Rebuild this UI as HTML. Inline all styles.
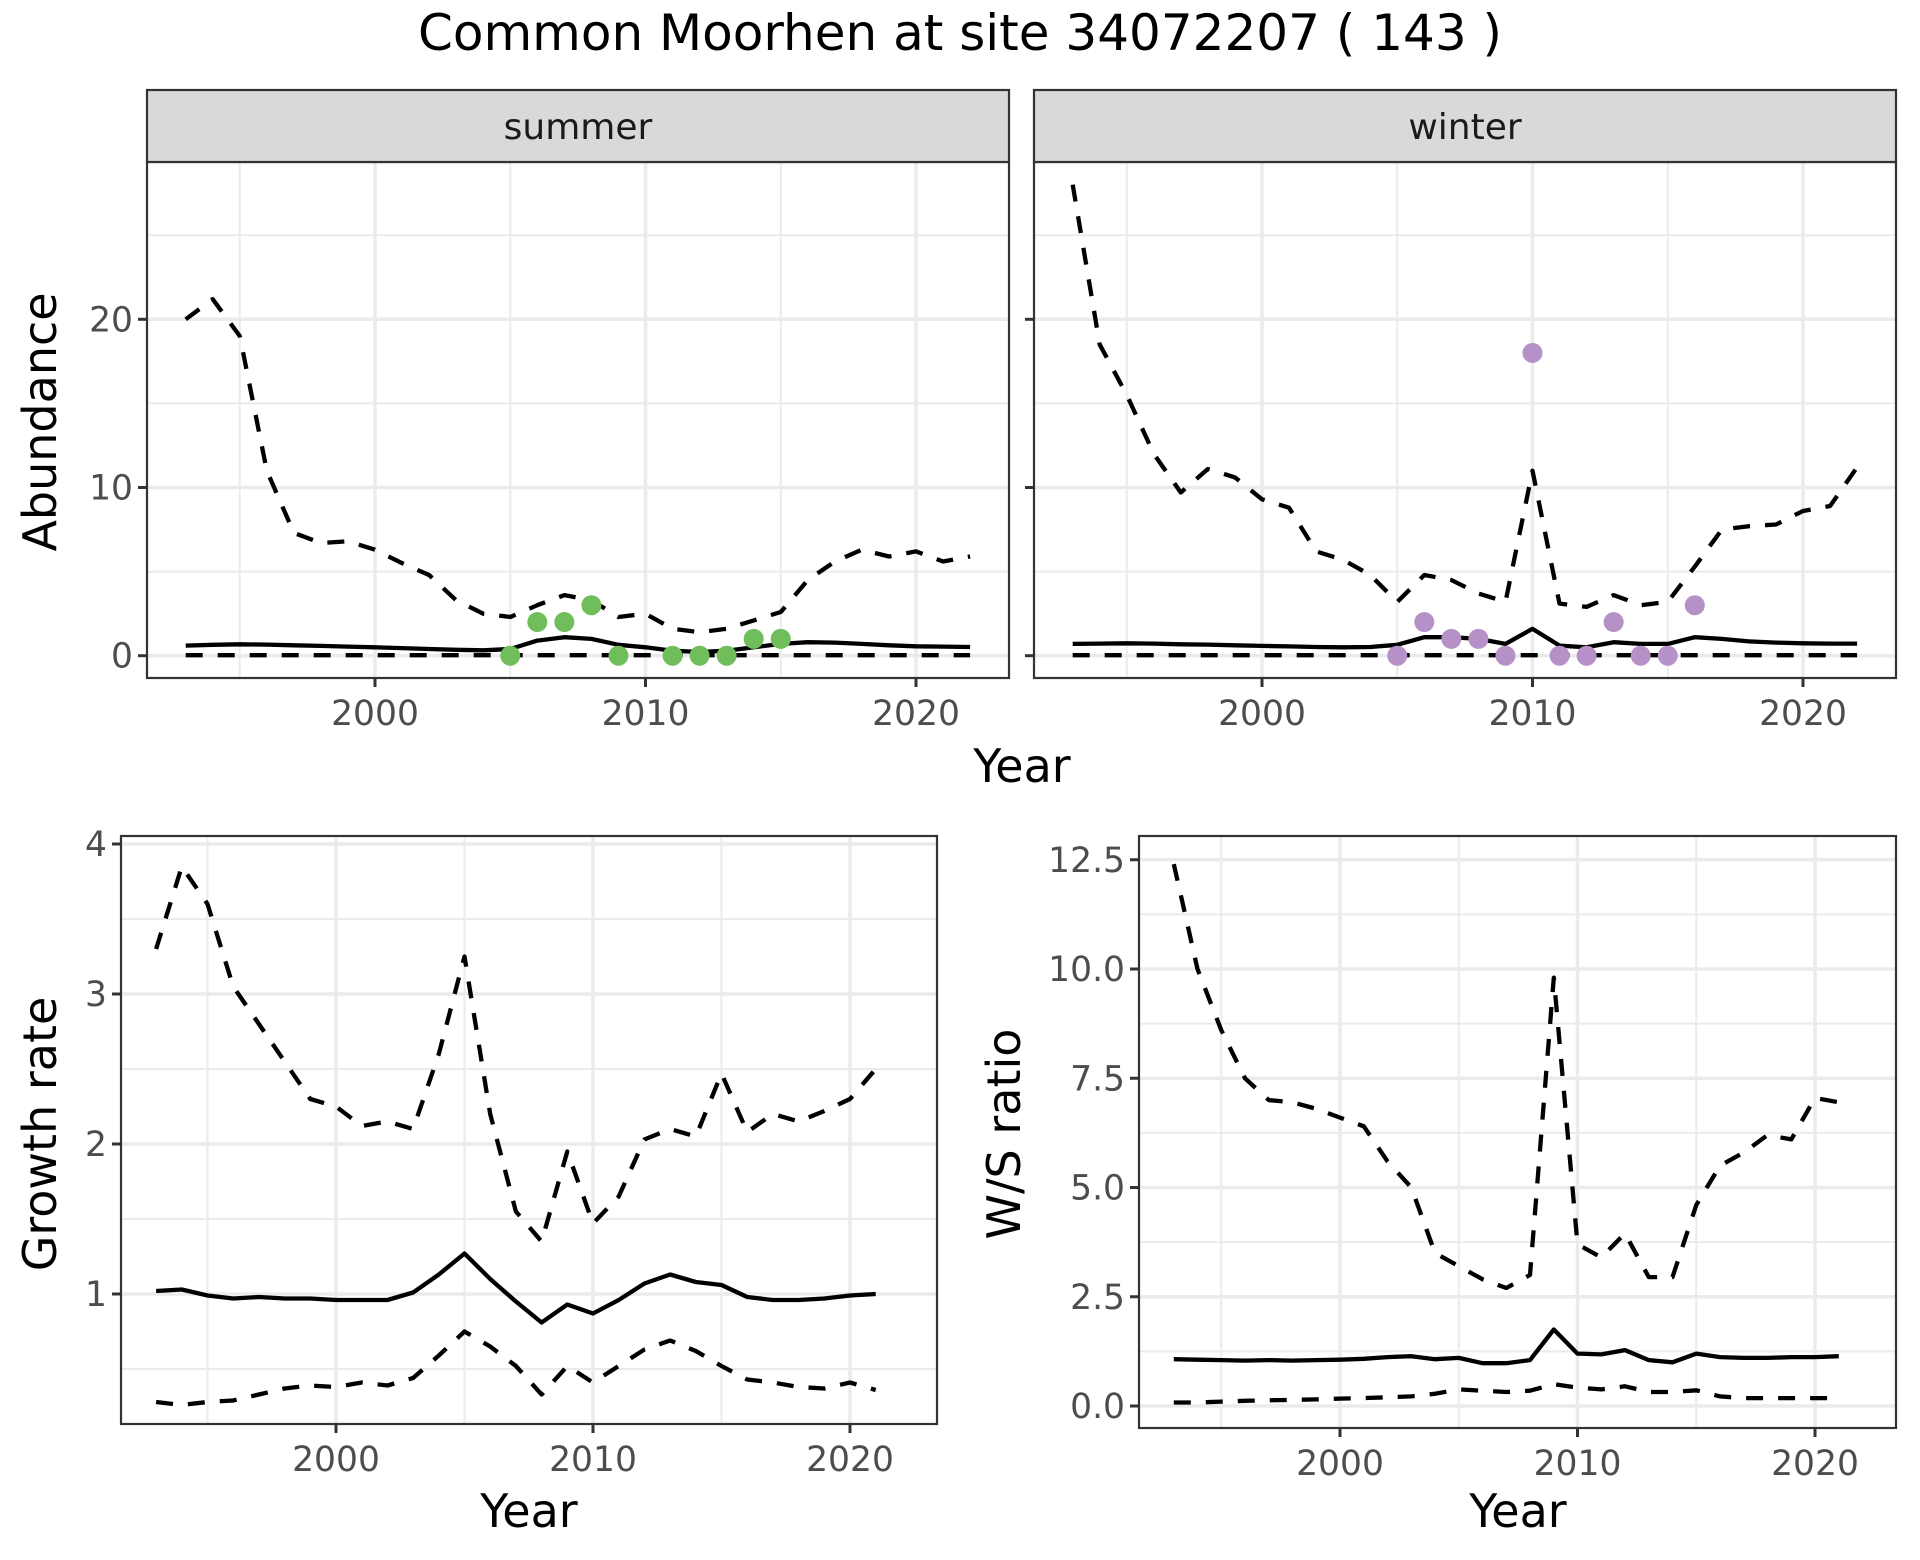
<!DOCTYPE html>
<html><head><meta charset="utf-8"><style>
html,body{margin:0;padding:0;background:#fff}
svg{display:block}
text{font-family:"DejaVu Sans","Liberation Sans",sans-serif}
</style></head><body>
<svg id="s" width="1920" height="1560" viewBox="0 0 1920 1560" xmlns="http://www.w3.org/2000/svg">
<rect width="1920" height="1560" fill="#fff"/>
<text x="960" y="50" font-size="50" text-anchor="middle" fill="#000">Common Moorhen at site 34072207 ( 143 )</text>
<g id="g"></g>
</svg>
<script>
(function(){
var g=document.getElementById('g'),out='';
function yrs(a,b){var r=[];for(var y=a;y<=b;y++)r.push(y);return r;}
function panel(o){
 var X=function(v){return o.ax+(v-2000)*o.xs;}, Y=function(v){return o.ay-(v-o.av)*o.ys;};
 out+='<rect x="'+o.x0+'" y="'+o.y0+'" width="'+(o.x1-o.x0)+'" height="'+(o.y1-o.y0)+'" fill="#fff"/>';
 o.xminor.forEach(function(v){var x=X(v);out+='<line x1="'+x+'" x2="'+x+'" y1="'+o.y0+'" y2="'+o.y1+'" stroke="#ebebeb" stroke-width="2"/>';});
 o.yminor.forEach(function(v){var y=Y(v);out+='<line x1="'+o.x0+'" x2="'+o.x1+'" y1="'+y+'" y2="'+y+'" stroke="#ebebeb" stroke-width="2"/>';});
 [1990,2000,2010,2020].forEach(function(v){var x=X(v);if(x>o.x0&&x<o.x1)out+='<line x1="'+x+'" x2="'+x+'" y1="'+o.y0+'" y2="'+o.y1+'" stroke="#ebebeb" stroke-width="3.5"/>';});
 o.ymaj.forEach(function(v){var y=Y(v[0]);out+='<line x1="'+o.x0+'" x2="'+o.x1+'" y1="'+y+'" y2="'+y+'" stroke="#ebebeb" stroke-width="3.5"/>';});
 o.series.forEach(function(s){
  var pts=s.d.map(function(v,i){return X(s.y0+i).toFixed(1)+','+Y(v).toFixed(1);}).join(' ');
  out+='<polyline points="'+pts+'" fill="none" stroke="#000" stroke-width="4.3" stroke-linejoin="round"'+(s.dash?' stroke-dasharray="17 15"':'')+'/>';
 });
 if(o.pts)o.pts.forEach(function(p){out+='<circle cx="'+X(p[0])+'" cy="'+Y(p[1])+'" r="10" fill="'+o.pc+'"/>';});
 out+='<rect x="'+o.x0+'" y="'+o.y0+'" width="'+(o.x1-o.x0)+'" height="'+(o.y1-o.y0)+'" fill="none" stroke="#333" stroke-width="2.2"/>';
 [2000,2010,2020].forEach(function(v){var x=X(v);out+='<line x1="'+x+'" x2="'+x+'" y1="'+o.y1+'" y2="'+(o.y1+9)+'" stroke="#333" stroke-width="3"/>';
  out+='<text x="'+x+'" y="'+(o.y1+47)+'" font-size="34.5" fill="#4d4d4d" text-anchor="middle">'+v+'</text>';});
 o.ymaj.forEach(function(v){var y=Y(v[0]);out+='<line x1="'+(o.x0-9)+'" x2="'+o.x0+'" y1="'+y+'" y2="'+y+'" stroke="#333" stroke-width="3"/>';
  if(o.ylab)out+='<text x="'+(o.x0-14)+'" y="'+(y+12)+'" font-size="34.5" fill="#4d4d4d" text-anchor="end">'+v[1]+'</text>';});
}
function ext(a,b){var r={};for(var k in a)r[k]=a[k];for(var k2 in b)r[k2]=b[k2];return r;}
var SU={y0:1993,dash:1,d:[20,21.2,19,11,7.3,6.7,6.8,6.3,5.5,4.8,3.3,2.5,2.3,3,3.6,3.3,2.3,2.5,1.6,1.4,1.6,2.1,2.6,4.5,5.6,6.3,5.9,6.2,5.6,5.9]};
var SM={y0:1993,d:[0.6,0.65,0.68,0.66,0.62,0.58,0.54,0.5,0.45,0.4,0.35,0.32,0.4,0.9,1.1,1.0,0.65,0.5,0.3,0.22,0.3,0.5,0.7,0.8,0.78,0.7,0.62,0.56,0.54,0.52]};
var SL={y0:1993,dash:1,d:yrs(1993,2022).map(function(){return 0.03;})};
var WU={y0:1993,dash:1,d:[28,18.5,15.5,12,9.7,11.1,10.6,9.3,8.8,6.2,5.7,4.8,3.2,4.8,4.5,3.7,3.2,11,3.1,2.9,3.6,3.0,3.2,5.3,7.5,7.7,7.8,8.6,8.9,11.2]};
var WM={y0:1993,d:[0.7,0.72,0.74,0.72,0.68,0.66,0.62,0.58,0.55,0.52,0.5,0.52,0.65,1.1,1.1,1.0,0.7,1.6,0.6,0.5,0.8,0.7,0.7,1.1,1.0,0.85,0.78,0.74,0.72,0.72]};
var TP={ymaj:[[0,'0'],[10,'10'],[20,'20']],yminor:[5,15,25],xminor:[1995,2005,2015],av:0,ay:655.7,ys:16.82,xs:27.05,y0:162,y1:678};
panel(ext(TP,{x0:147,x1:1009,ax:375,series:[SU,SM,SL],pts:[[2005,0],[2006,2],[2007,2],[2008,3],[2009,0],[2011,0],[2012,0],[2013,0],[2014,1],[2015,1]],pc:'#6fbe5b',ylab:1}));
panel(ext(TP,{x0:1034,x1:1896,ax:1262,series:[WU,WM,SL],pts:[[2005,0],[2006,2],[2007,1],[2008,1],[2009,0],[2010,18],[2011,0],[2012,0],[2013,2],[2014,0],[2015,0],[2016,3]],pc:'#b591c7',ylab:0}));
[[147,1009,'summer'],[1034,1896,'winter']].forEach(function(s){
 out+='<rect x="'+s[0]+'" y="90" width="'+(s[1]-s[0])+'" height="72" fill="#d9d9d9" stroke="#333" stroke-width="2.2"/>';
 out+='<text x="'+((s[0]+s[1])/2)+'" y="139" font-size="36" fill="#1a1a1a" text-anchor="middle">'+s[2]+'</text>';});
var GU={y0:1993,dash:1,d:[3.3,3.85,3.6,3.05,2.8,2.55,2.3,2.25,2.12,2.15,2.1,2.6,3.25,2.2,1.55,1.35,1.95,1.47,1.65,2.03,2.1,2.05,2.47,2.08,2.2,2.15,2.22,2.3,2.5]};
var GM={y0:1993,d:[1.02,1.03,0.99,0.97,0.98,0.97,0.97,0.96,0.96,0.96,1.01,1.13,1.27,1.1,0.95,0.81,0.93,0.87,0.96,1.07,1.13,1.08,1.06,0.98,0.96,0.96,0.97,0.99,1.0]};
var GL={y0:1993,dash:1,d:[0.28,0.26,0.28,0.29,0.33,0.37,0.39,0.38,0.41,0.39,0.44,0.59,0.75,0.65,0.52,0.33,0.52,0.41,0.52,0.63,0.69,0.62,0.52,0.43,0.41,0.38,0.37,0.41,0.36]};
panel({x0:121,x1:937,y0:836,y1:1424,ax:336,xs:25.7,av:1,ay:1294,ys:150,ymaj:[[1,'1'],[2,'2'],[3,'3'],[4,'4']],yminor:[0.5,1.5,2.5,3.5],xminor:[1995,2005,2015],series:[GU,GM,GL],ylab:1});
var RU={y0:1993,dash:1,d:[12.4,10,8.6,7.5,7.0,6.95,6.8,6.6,6.4,5.6,5.0,3.5,3.2,2.9,2.7,3.0,9.8,3.7,3.4,3.95,2.95,2.95,4.6,5.5,5.8,6.2,6.1,7.05,6.95]};
var RM={y0:1993,d:[1.07,1.06,1.05,1.04,1.05,1.04,1.05,1.06,1.08,1.12,1.14,1.07,1.1,0.98,0.98,1.05,1.75,1.2,1.18,1.28,1.05,1.0,1.2,1.12,1.1,1.1,1.12,1.12,1.14]};
var RL={y0:1993,dash:1,d:[0.08,0.08,0.1,0.12,0.13,0.14,0.15,0.17,0.18,0.2,0.22,0.28,0.38,0.35,0.32,0.35,0.5,0.42,0.38,0.45,0.32,0.32,0.36,0.22,0.18,0.18,0.18,0.18,0.18]};
panel({x0:1139,x1:1896,y0:836,y1:1428,ax:1340,xs:23.75,av:0,ay:1406,ys:43.7,ymaj:[[0,'0.0'],[2.5,'2.5'],[5,'5.0'],[7.5,'7.5'],[10,'10.0'],[12.5,'12.5']],yminor:[1.25,3.75,6.25,8.75,11.25],xminor:[1995,2005,2015],series:[RU,RM,RL],ylab:1});
out+='<text x="1022" y="782" font-size="46" text-anchor="middle">Year</text>';
out+='<text x="529" y="1527" font-size="46" text-anchor="middle">Year</text>';
out+='<text x="1518" y="1527" font-size="46" text-anchor="middle">Year</text>';
out+='<text transform="translate(56,422) rotate(-90)" font-size="46" text-anchor="middle">Abundance</text>';
out+='<text transform="translate(56,1134) rotate(-90)" font-size="46" text-anchor="middle">Growth rate</text>';
out+='<text transform="translate(1020,1134) rotate(-90)" font-size="46" text-anchor="middle">W/S ratio</text>';
g.innerHTML=out;
})();
</script>
</body></html>
